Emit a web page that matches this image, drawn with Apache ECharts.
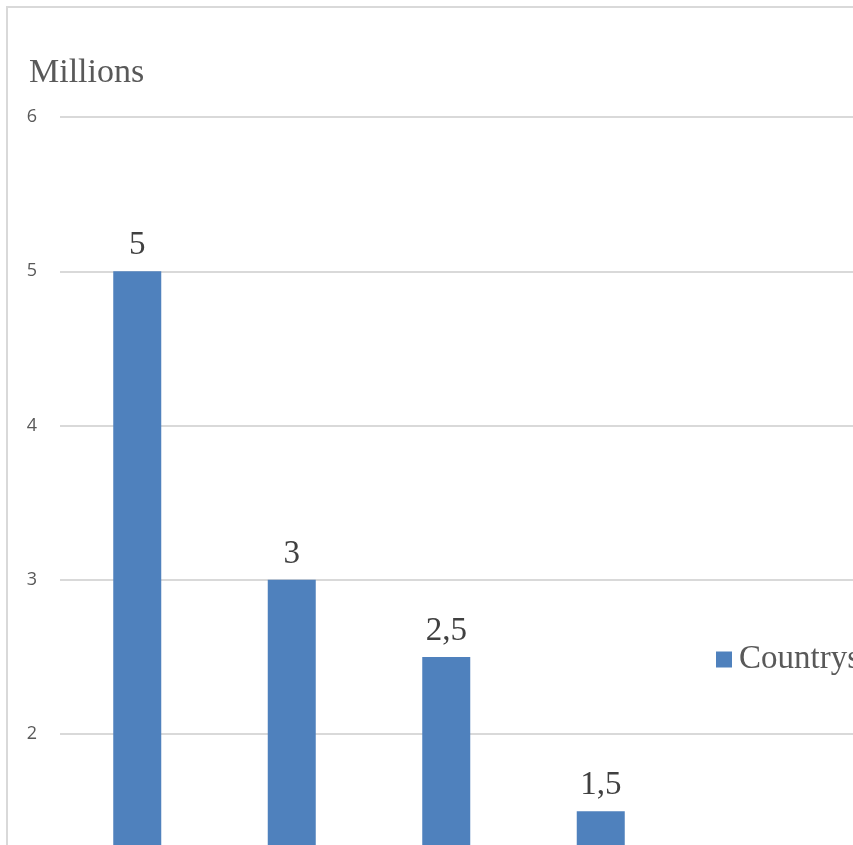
<!DOCTYPE html>
<html>
<head>
<meta charset="utf-8">
<script src="https://cdn.jsdelivr.net/npm/echarts@6/dist/echarts.min.js"></script>
<style>
html,body{margin:0;padding:0;overflow:hidden;background:#fff;width:853px;height:845px;}
#c{position:absolute;left:0;top:0;width:1100px;height:1100px;}
</style>
</head>
<body>
<div id="c"></div>
<script>
const categories = ["A", "B", "C", "D"];
const values = [5, 3, 2.5, 1.5];
const seriesName = "Countrys";
const axisTitle = "Millions";

const chart = echarts.init(document.getElementById('c'), null, {renderer: 'canvas'});
const serif = '"Liberation Serif", "Times New Roman", serif';
chart.setOption({
  animation: false,
  backgroundColor: '#ffffff',
  graphic: [
    {type: 'rect', shape: {x: 7, y: 7, width: 1200, height: 1200}, style: {fill: 'none', stroke: '#d9d9d9', lineWidth: 2}, silent: true},
    {type: 'text', left: 29, top: 56, style: {text: axisTitle, font: '34px ' + serif, fill: '#595959'}}
  ],
  legend: {
    left: 716, top: 643, padding: 0,
    itemWidth: 16, itemHeight: 16, itemGap: 6,
    icon: 'rect',
    textStyle: {fontFamily: serif, fontSize: 33, color: '#595959', padding: [0,0,0,2]},
    data: [seriesName]
  },
  grid: [
    {left: 60, top: 117, width: 618, bottom: 57.5, containLabel: false},
    {left: 60, top: 117, right: 0, bottom: 57.5, containLabel: false}
  ],
  xAxis: [
    {type: 'category', gridIndex: 0, data: categories, axisLine: {show: false}, axisTick: {show: false}, axisLabel: {show: false}},
    {type: 'value', gridIndex: 1, show: false, min: 0, max: 1}
  ],
  yAxis: [
    {type: 'value', gridIndex: 0, min: 0, max: 6, interval: 1,
     axisLine: {show: false}, axisTick: {show: false},
     splitLine: {show: false},
     axisLabel: {margin: 23, fontFamily: '"Open Sans", "Noto Sans", sans-serif', fontSize: 18, color: '#595959'}},
    {type: 'value', gridIndex: 1, min: 0, max: 6, interval: 1,
     axisLine: {show: false}, axisTick: {show: false}, axisLabel: {show: false},
     splitLine: {show: true, lineStyle: {color: '#d9d9d9', width: 2}}}
  ],
  series: [{
    name: seriesName,
    type: 'bar',
    xAxisIndex: 0, yAxisIndex: 0,
    data: values,
    barWidth: 48,
    z: 3,
    itemStyle: {color: '#4f81bd'},
    label: {
      show: true, position: 'top', distance: 9,
      fontFamily: serif, fontSize: 33, color: '#404040',
      formatter: p => String(p.value).replace('.', ',')
    }
  }]
});
</script>
</body>
</html>
